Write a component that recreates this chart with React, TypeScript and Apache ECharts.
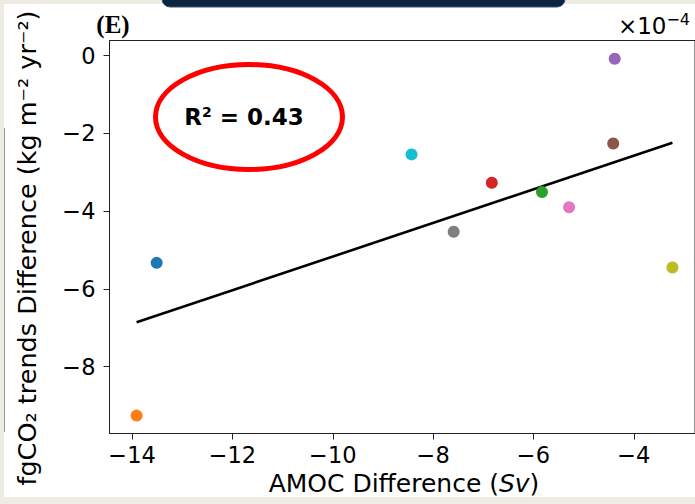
import React, { useEffect, useRef } from "react";
import * as echarts from "echarts";

const amocDiff: number[] = [-13.51, -13.91, -6.83, -5.83, -4.38, -4.41, -5.29, -7.59, -3.23, -8.43];
const fgco2Diff: number[] = [-5.33, -9.26, -3.27, -3.51, -0.08, -2.26, -3.90, -4.53, -5.45, -2.54];
const pointColors: string[] = ["#1f77b4", "#ff7f0e", "#d62728", "#2ca02c", "#9467bd", "#8c564b", "#e377c2", "#7f7f7f", "#bcbd22", "#17becf"];
const fitLineX: number[] = [-13.91, -3.23];
const fitLineY: number[] = [-6.86, -2.24];
const xTicks: number[] = [-14, -12, -10, -8, -6, -4];
const yTicks: number[] = [0, -2, -4, -6, -8];

const FONT = "DejaVu Sans";
const fmt = (v: number) => String(v).replace("-", "\u2212");

export default function App() {
  const ref = useRef<HTMLDivElement>(null);
  useEffect(() => {
    if (!ref.current) return;
    const chart = echarts.init(ref.current, null, { renderer: "svg" });
    const scatterData = amocDiff.map((x, i) => ({
      value: [x, fgco2Diff[i]],
      itemStyle: { color: pointColors[i], opacity: 1 },
    }));
    const lineData = fitLineX.map((x, i) => [x, fitLineY[i]]);
    chart.setOption({
      animation: false,
      backgroundColor: "#ffffff",
      grid: { left: 109.5, top: 40.5, width: 587.5, height: 393, show: true, borderColor: "#222", borderWidth: 1, backgroundColor: "transparent" },
      xAxis: {
        type: "value",
        min: -14.45,
        max: -2.78,
        splitLine: { show: false },
        axisLine: { show: true, onZero: false, lineStyle: { color: "#222", width: 1 } },
        axisTick: { show: true, inside: false, length: 6, lineStyle: { color: "#222" }, customValues: xTicks },
        axisLabel: { customValues: xTicks, formatter: fmt, color: "#000", fontFamily: FONT, fontSize: 22.5, margin: 10 },
      },
      yAxis: {
        type: "value",
        min: -9.72,
        max: 0.39,
        splitLine: { show: false },
        axisLine: { show: true, onZero: false, lineStyle: { color: "#222", width: 1 } },
        axisTick: { show: true, inside: false, length: 6, lineStyle: { color: "#222" }, customValues: yTicks },
        axisLabel: { customValues: yTicks, formatter: fmt, color: "#000", fontFamily: FONT, fontSize: 22.5, margin: 14 },
      },
      series: [
        {
          type: "line",
          data: lineData,
          symbol: "none",
          lineStyle: { color: "#000", width: 2.6 },
          z: 2,
        },
        {
          type: "scatter",
          data: scatterData,
          symbolSize: 12,
          z: 3,
        },
      ],
      graphic: [
        { type: "rect", shape: { x: 0, y: 0, width: 695, height: 4 }, style: { fill: "#eeebe3" }, z: 10 },
        { type: "rect", shape: { x: 0, y: 0, width: 4, height: 504 }, style: { fill: "#eeebe3" }, z: 10 },
        { type: "rect", shape: { x: 0, y: 497, width: 695, height: 7 }, style: { fill: "#eeebe3" }, z: 10 },
        { type: "line", shape: { x1: 4.5, y1: 128, x2: 4.5, y2: 432 }, style: { stroke: "#9a9a9a", lineWidth: 1 }, z: 10 },
        { type: "rect", shape: { x: 162, y: -10, width: 403, height: 17, r: 8 }, style: { fill: "#0b2440", stroke: "#3b5672", lineWidth: 1 }, z: 11 },
        {
          type: "text",
          x: 113,
          y: 24,
          style: { text: "(E)", font: "bold 25px 'Liberation Serif'", fill: "#000", align: "center", verticalAlign: "middle" },
          z: 10,
        },
        {
          type: "text",
          x: 690,
          y: 26,
          style: {
            text: "{a|\u00d710}{b|\u22124}",
            align: "right",
            verticalAlign: "middle",
            rich: {
              a: { fontFamily: FONT, fontSize: 23, fill: "#000" },
              b: { fontFamily: FONT, fontSize: 16, fill: "#000", padding: [0, 0, 14, 0] },
            },
          },
          z: 10,
        },
        {
          type: "text",
          x: 27,
          y: 248,
          rotation: Math.PI / 2,
          style: {
            text: "fgCO\u2082 trends Difference (kg m\u207b\u00b2 yr\u207b\u00b2)",
            font: `25.5px '${FONT}'`,
            fill: "#000",
            align: "center",
            verticalAlign: "middle",
          },
          z: 10,
        },
        {
          type: "text",
          x: 404,
          y: 483,
          style: {
            text: "{a|AMOC Difference (}{i|Sv}{a|)}",
            align: "center",
            verticalAlign: "middle",
            rich: {
              a: { fontFamily: FONT, fontSize: 25, fill: "#000" },
              i: { fontFamily: FONT, fontSize: 25, fontStyle: "italic", fill: "#000" },
            },
          },
          z: 10,
        },
        {
          type: "ellipse",
          shape: { cx: 249, cy: 117, rx: 93.5, ry: 52.5 },
          style: { fill: "none", stroke: "#ff0000", lineWidth: 5 },
          z: 10,
        },
        {
          type: "text",
          x: 244,
          y: 117,
          style: {
            text: "{a|R}{s|2}{a| = 0.43}",
            align: "center",
            verticalAlign: "middle",
            rich: {
              a: { fontFamily: FONT, fontSize: 23, fontWeight: "bold", fill: "#000" },
              s: { fontFamily: FONT, fontSize: 14, fontWeight: "bold", fill: "#000", padding: [0, 0, 10, 0] },
            },
          },
          z: 10,
        },
      ],
    });
    return () => chart.dispose();
  }, []);
  return <div ref={ref} style={{ position: "fixed", left: 0, top: 0, width: 695, height: 504 }} />;
}
